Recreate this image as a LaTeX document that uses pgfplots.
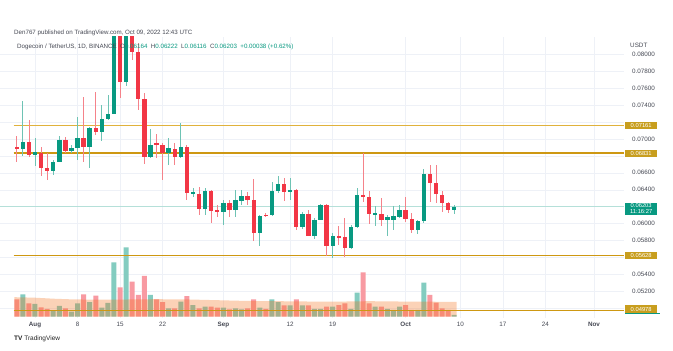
\documentclass[border=0pt]{standalone}
\usepackage{fontspec}
\setmainfont{Liberation Sans}
\usepackage{pgfplots}
\pgfplotsset{compat=1.18}
\usepackage{pgfplotstable}

\definecolor{cup}{RGB}{8,153,129}
\definecolor{cdn}{RGB}{242,54,69}
\definecolor{wup}{RGB}{110,195,180}
\definecolor{wdn}{RGB}{245,130,138}
\definecolor{lvlgold}{RGB}{206,152,18}
\definecolor{lvlgoldlt}{RGB}{224,178,60}
\definecolor{boxgold}{RGB}{200,158,30}
\definecolor{gridc}{RGB}{238,241,247}
\definecolor{txt}{RGB}{70,73,84}
\definecolor{maorange}{RGB}{245,108,18}
\definecolor{salmon}{RGB}{248,158,112}

\pgfplotstableread{
d o h l c v
-2 0.06883 0.07450 0.06800 0.06969 1234
0 0.06812 0.07008 0.06683 0.06843 703
3 0.06624 0.06753 0.06577 0.06722 332
4 0.06726 0.07028 0.06726 0.06981 592
6 0.06863 0.06930 0.06832 0.06898 277
7 0.06898 0.07263 0.06753 0.07008 736
9 0.06902 0.07145 0.06655 0.07126 813
11 0.07086 0.07400 0.06977 0.07231 498
12 0.07231 0.07518 0.07224 0.07294 758
13 0.07294 0.08890 0.07290 0.08450 3004
15 0.07667 0.08650 0.07623 0.08400 3834
19 0.06781 0.07114 0.06773 0.06930 1201
22 0.06839 0.07008 0.06694 0.06890 459
24 0.06792 0.07184 0.06773 0.06902 830
26 0.06361 0.06420 0.06320 0.06370 647
28 0.06173 0.06420 0.06106 0.06381 553
31 0.06138 0.06283 0.05989 0.06244 498
33 0.06165 0.06400 0.06079 0.06275 459
34 0.06271 0.06400 0.06224 0.06322 404
37 0.05890 0.06106 0.05734 0.06095 498
39 0.06099 0.06487 0.06087 0.06381 957
40 0.06381 0.06557 0.06361 0.06471 813
42 0.06369 0.06538 0.06283 0.06400 625
44 0.05961 0.06134 0.05938 0.06118 625
46 0.05859 0.06067 0.05820 0.06048 426
47 0.06048 0.06236 0.06040 0.06224 426
49 0.05742 0.05891 0.05597 0.05852 553
52 0.05715 0.05989 0.05703 0.05961 426
53 0.05961 0.06420 0.05950 0.06334 1328
56 0.06114 0.06204 0.05969 0.06118 553
58 0.06048 0.06106 0.05852 0.06079 426
59 0.06048 0.06212 0.05930 0.06095 371
60 0.06079 0.06224 0.06067 0.06165 553
63 0.05922 0.06048 0.05883 0.06028 371
64 0.06028 0.06643 0.06008 0.06585 1881
69 0.06164 0.06222 0.06116 0.06203 94
}\candleup

\pgfplotstableread{
d o h l c v
-3 0.06910 0.07030 0.06733 0.06879 957
-1 0.06961 0.07224 0.06792 0.06812 736
1 0.06839 0.06910 0.06557 0.06655 515
2 0.06655 0.06832 0.06518 0.06616 426
5 0.06981 0.07028 0.06839 0.06863 459
8 0.07008 0.07498 0.06733 0.06902 1234
10 0.07126 0.07557 0.07047 0.07086 1162
14 0.08450 0.08700 0.07480 0.07667 1621
16 0.08400 0.08500 0.07929 0.08027 1937
17 0.08027 0.08130 0.07341 0.07471 1201
18 0.07471 0.07537 0.06702 0.06781 2252
20 0.06950 0.07060 0.06770 0.06930 957
21 0.06930 0.06950 0.06518 0.06839 813
23 0.06883 0.06950 0.06694 0.06792 459
25 0.06902 0.06930 0.06283 0.06361 1145
27 0.06353 0.06432 0.06106 0.06173 459
29 0.06381 0.06400 0.06008 0.06153 553
30 0.06161 0.06224 0.06079 0.06138 498
32 0.06244 0.06283 0.06079 0.06165 404
35 0.06322 0.06369 0.06224 0.06275 459
36 0.06275 0.06526 0.05793 0.05890 957
38 0.06106 0.06130 0.06079 0.06095 426
41 0.06471 0.06538 0.06263 0.06369 625
43 0.06400 0.06408 0.05930 0.05961 957
45 0.06118 0.06165 0.05852 0.05859 625
48 0.06224 0.06236 0.05624 0.05742 553
50 0.05852 0.05969 0.05754 0.05832 647
51 0.05844 0.06067 0.05609 0.05715 736
54 0.06334 0.06832 0.06251 0.06310 2451
55 0.06310 0.06381 0.06001 0.06118 736
57 0.06114 0.06302 0.05977 0.06048 553
61 0.06165 0.06314 0.06016 0.06055 647
62 0.06055 0.06126 0.05891 0.05930 371
65 0.06585 0.06694 0.06262 0.06479 1201
66 0.06479 0.06694 0.06250 0.06350 775
67 0.06342 0.06382 0.06133 0.06244 459
68 0.06244 0.06262 0.06126 0.06166 371
}\candledn

\pgfplotsset{
  pane/.style={scale only axis, width=624pt, height=281pt, xmin=-5.76, xmax=96.94},
  pricey/.style={ymin=0.0489, ymax=0.0820},
}

\begin{document}
\begin{tikzpicture}[x=1pt,y=1pt]
\useasboundingbox (0,0) rectangle (673,351);
\fill[white] (0,0) rectangle (673,351);

% grid and tick labels
\begin{axis}[pane, pricey, name=g, at={(0pt,33pt)}, anchor=south west,
  axis line style={draw=none}, major tick length=0pt,
  scaled y ticks=false,
  xtick={0,7,14,21,31,42,49,61,70,77,84,92},
  xticklabels={\textbf{Aug},8,15,22,\textbf{Sep},12,19,\textbf{Oct},10,17,24,\textbf{Nov}},
  ytick={0.050,0.052,0.054,0.056,0.058,0.060,0.062,0.064,0.066,0.068,0.070,0.072,0.074,0.076,0.078,0.080},
  yticklabels={,0.05200,0.05400,,0.05800,0.06000,,0.06400,0.06600,,0.07000,,0.07400,0.07600,0.07800,0.08000},
  yticklabel pos=right,
  grid=major, grid style={gridc, line width=0.6pt},
  tick label style={font=\fontsize{6.3}{7}\selectfont, text=txt},
  yticklabel style={anchor=west, xshift=4.5pt},
  xticklabel style={yshift=-1pt},
]
\addplot[draw=none] coordinates {(0,0.06)};
\end{axis}

% volume
\begin{axis}[pane, at={(g.south west)}, anchor=south west, ymin=-72, ymax=15476, hide axis]
\addplot[ybar, bar width=5pt, bar shift=0pt, fill=cup!50, draw=none] table[x=d, y=v] {\candleup};
\addplot[ybar, bar width=5pt, bar shift=0pt, fill=cdn!50, draw=none] table[x=d, y=v] {\candledn};
\addplot[fill=maorange, fill opacity=0.3, draw=none] coordinates {
(-3.4,1079) (0,1051) (3,996) (6,960) (10,941) (13,941) (16,955) (20,968) (25,955)
(30,913) (35,870) (40,858) (45,840) (50,835) (55,858) (60,840) (65,830) (69.4,815)} \closedcycle;
\node[fill=salmon, text=white, font=\fontsize{5.8}{6}\selectfont, inner sep=0.8pt,
  minimum width=36pt, minimum height=7pt, anchor=west] at (axis cs:96.94,830) [xshift=1pt] {829.977M};
\end{axis}

% horizontal levels
\begin{axis}[pane, pricey, at={(g.south west)}, anchor=south west,
  axis lines=none, ticks=none, clip=false]
\addplot[lvlgoldlt, line width=1.4pt] coordinates {(-3.5,0.07161) (96.94,0.07161)};
\addplot[lvlgold, line width=1.6pt] coordinates {(-3.5,0.06831) (96.94,0.06831)};
\addplot[lvlgold, line width=1.5pt] coordinates {(-3.5,0.05628) (96.94,0.05628)};
\addplot[lvlgold, line width=1.5pt] coordinates {(-3.5,0.04978) (96.94,0.04978)};
\addplot[cup!30, line width=0.6pt] coordinates {(-5.76,0.06203) (96.94,0.06203)};
\end{axis}

% candles
\begin{axis}[pane, pricey, at={(g.south west)}, anchor=south west, hide axis, clip mode=individual]
% wicks
\addplot[draw=none, mark=none, error bars/.cd, y dir=both, y explicit, error mark=none,
  error bar style={draw=wup, line width=0.8pt}]
  table[x=d, y expr={(\thisrow{h}+\thisrow{l})/2}, y error expr={(\thisrow{h}-\thisrow{l})/2}] {\candleup};
\addplot[draw=none, mark=none, error bars/.cd, y dir=both, y explicit, error mark=none,
  error bar style={draw=wdn, line width=0.8pt}]
  table[x=d, y expr={(\thisrow{h}+\thisrow{l})/2}, y error expr={(\thisrow{h}-\thisrow{l})/2}] {\candledn};
% bodies
\addplot[draw=none, mark=none, error bars/.cd, y dir=both, y explicit, error mark=none,
  error bar style={draw=cup, line width=4.4pt}]
  table[x=d, y expr={(\thisrow{o}+\thisrow{c})/2}, y error expr={max(abs(\thisrow{o}-\thisrow{c})/2,0.00006)}] {\candleup};
\addplot[draw=none, mark=none, error bars/.cd, y dir=both, y explicit, error mark=none,
  error bar style={draw=cdn, line width=4.4pt}]
  table[x=d, y expr={(\thisrow{o}+\thisrow{c})/2}, y error expr={max(abs(\thisrow{o}-\thisrow{c})/2,0.00006)}] {\candledn};
% price scale labels
\node[fill=boxgold, text=white, font=\fontsize{5.8}{6}\selectfont, inner sep=0.8pt,
  minimum width=32pt, minimum height=7pt, anchor=west] at (axis cs:96.94,0.07161) [xshift=1pt] {0.07161};
\node[fill=boxgold, text=white, font=\fontsize{5.8}{6}\selectfont, inner sep=0.8pt,
  minimum width=32pt, minimum height=7pt, anchor=west] at (axis cs:96.94,0.06831) [xshift=1pt] {0.06831};
\node[fill=boxgold, text=white, font=\fontsize{5.8}{6}\selectfont, inner sep=0.8pt,
  minimum width=32pt, minimum height=7pt, anchor=west] at (axis cs:96.94,0.05628) [xshift=1pt] {0.05628};
\node[fill=boxgold, text=white, font=\fontsize{5.8}{6}\selectfont, inner sep=0.8pt,
  minimum width=32pt, minimum height=7.5pt, anchor=west] at (axis cs:96.94,0.04978) [xshift=1pt, yshift=1.5pt] {0.04978};
\node[fill=cup, text=white, font=\fontsize{5.8}{6.2}\selectfont, inner sep=1pt, align=center,
  minimum width=32pt, anchor=north west] at (axis cs:96.94,0.06203) [xshift=1pt, yshift=4pt] {0.06203\\11:16:27};
\end{axis}

\fill[cup] (625,36.5) rectangle (660,37.6);

% header texts
\node[anchor=west, inner sep=0, font=\fontsize{6.2}{7}\selectfont, text=txt] at (14,318)
  {Den767 published on TradingView.com, Oct 09, 2022 12:43 UTC};
\node[anchor=west, inner sep=0, font=\fontsize{6.2}{7}\selectfont, text=txt] at (17,304)
  {Dogecoin / TetherUS, 1D, BINANCE\ \ O\textcolor{cup}{0.06164}\ \ H\textcolor{cup}{0.06222}\ \ L\textcolor{cup}{0.06116}\ \ C\textcolor{cup}{0.06203}\ \ \textcolor{cup}{+0.00038 (+0.62\%)}};
\node[anchor=west, inner sep=0, font=\fontsize{6.3}{7}\selectfont, text=txt] at (630,306) {USDT};
\node[anchor=west, inner sep=0, font=\fontsize{6.5}{7}\selectfont, text=black!85] at (14,12)
  {\textbf{TV} TradingView};
\end{tikzpicture}
\end{document}
